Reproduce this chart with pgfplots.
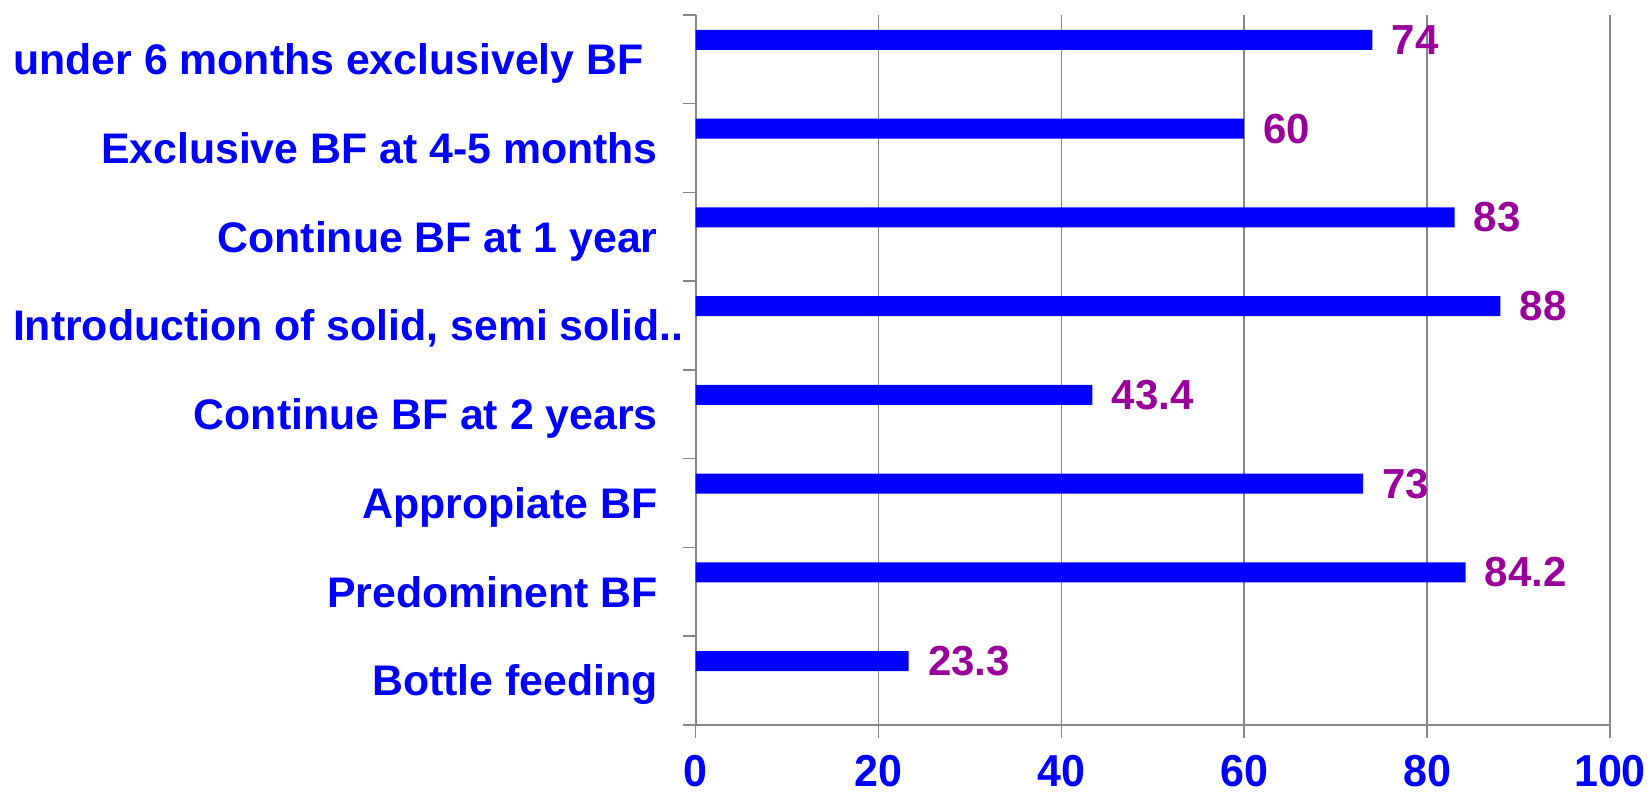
\documentclass[border=0pt]{standalone}
\usepackage{graphicx}
\usepackage{pgfplots}
\pgfplotsset{compat=1.18}
\usepackage{fontspec}
\setmainfont{Liberation Sans}
\definecolor{barblue}{RGB}{0,0,255}
\definecolor{vallab}{RGB}{153,0,153}
\definecolor{axgray}{RGB}{134,134,134}
\newcommand{\lf}{\fontsize{21}{25}\selectfont\bfseries}
\newcommand{\cf}{\fontsize{21.4}{25}\selectfont\bfseries}
\newcommand{\tf}{\fontsize{21.5}{25}\selectfont\bfseries}
\begin{document}
\begin{tikzpicture}
\path (0,0) rectangle (825pt,398pt);
\begin{axis}[
  at={(347.8pt,35.5pt)}, anchor=south west,
  scale only axis, width=457.2pt, height=355pt,
  xbar, bar width=10pt, bar shift=9.7pt,
  xmin=0, xmax=100, ymin=-0.5, ymax=7.5,
  clip=false,
  /pgf/number format/assume math mode=true,
  axis x line*=bottom, axis y line*=left,
  axis line style={draw=axgray, line width=1pt, -},
  xtick={0,20,...,100},
  xticklabel={\scalebox{1}[1.04]{\pgfmathprintnumber{\tick}}},
  xmajorgrids, grid style={draw=axgray, line width=0.75pt},
  tick align=outside, major tick length=6.5pt,
  tick style={draw=axgray, line width=0.75pt},
  xticklabel style={font=\tf, text=barblue, anchor=north, inner sep=0pt},
  xticklabel shift=8.6pt,
  ytick={-0.5,0.5,...,7.5}, yticklabels={},
  extra y ticks={0,1,2,3,4,5,6,7},
  extra y tick labels={
    {Bottle feeding\hspace*{13pt}},
    {Predominent BF\hspace*{13pt}},
    {Appropiate BF\hspace*{13pt}},
    {Continue BF at 2 years\hspace*{13pt}},
    {Introduction of solid, semi solid..},
    {Continue BF at 1 year\hspace*{13pt}},
    {Exclusive BF at 4-5 months\hspace*{13pt}},
    {under 6 months exclusively BF\hspace*{20pt}}},
  extra y tick style={major tick length=0pt, grid=none},
  yticklabel style={font=\cf, text=barblue, anchor=base east, inner sep=0pt, yshift=-7.6pt},
  yticklabel shift=5.8pt,
  nodes near coords,
  nodes near coords style={font=\lf, text=vallab, anchor=west, inner sep=0pt, xshift=9.5pt},
]
\addplot[draw=none, fill=barblue] coordinates {
  (23.3,0) (84.2,1) (73,2) (43.4,3) (88,4) (83,5) (60,6) (74,7)
};
\end{axis}
\end{tikzpicture}
\end{document}
